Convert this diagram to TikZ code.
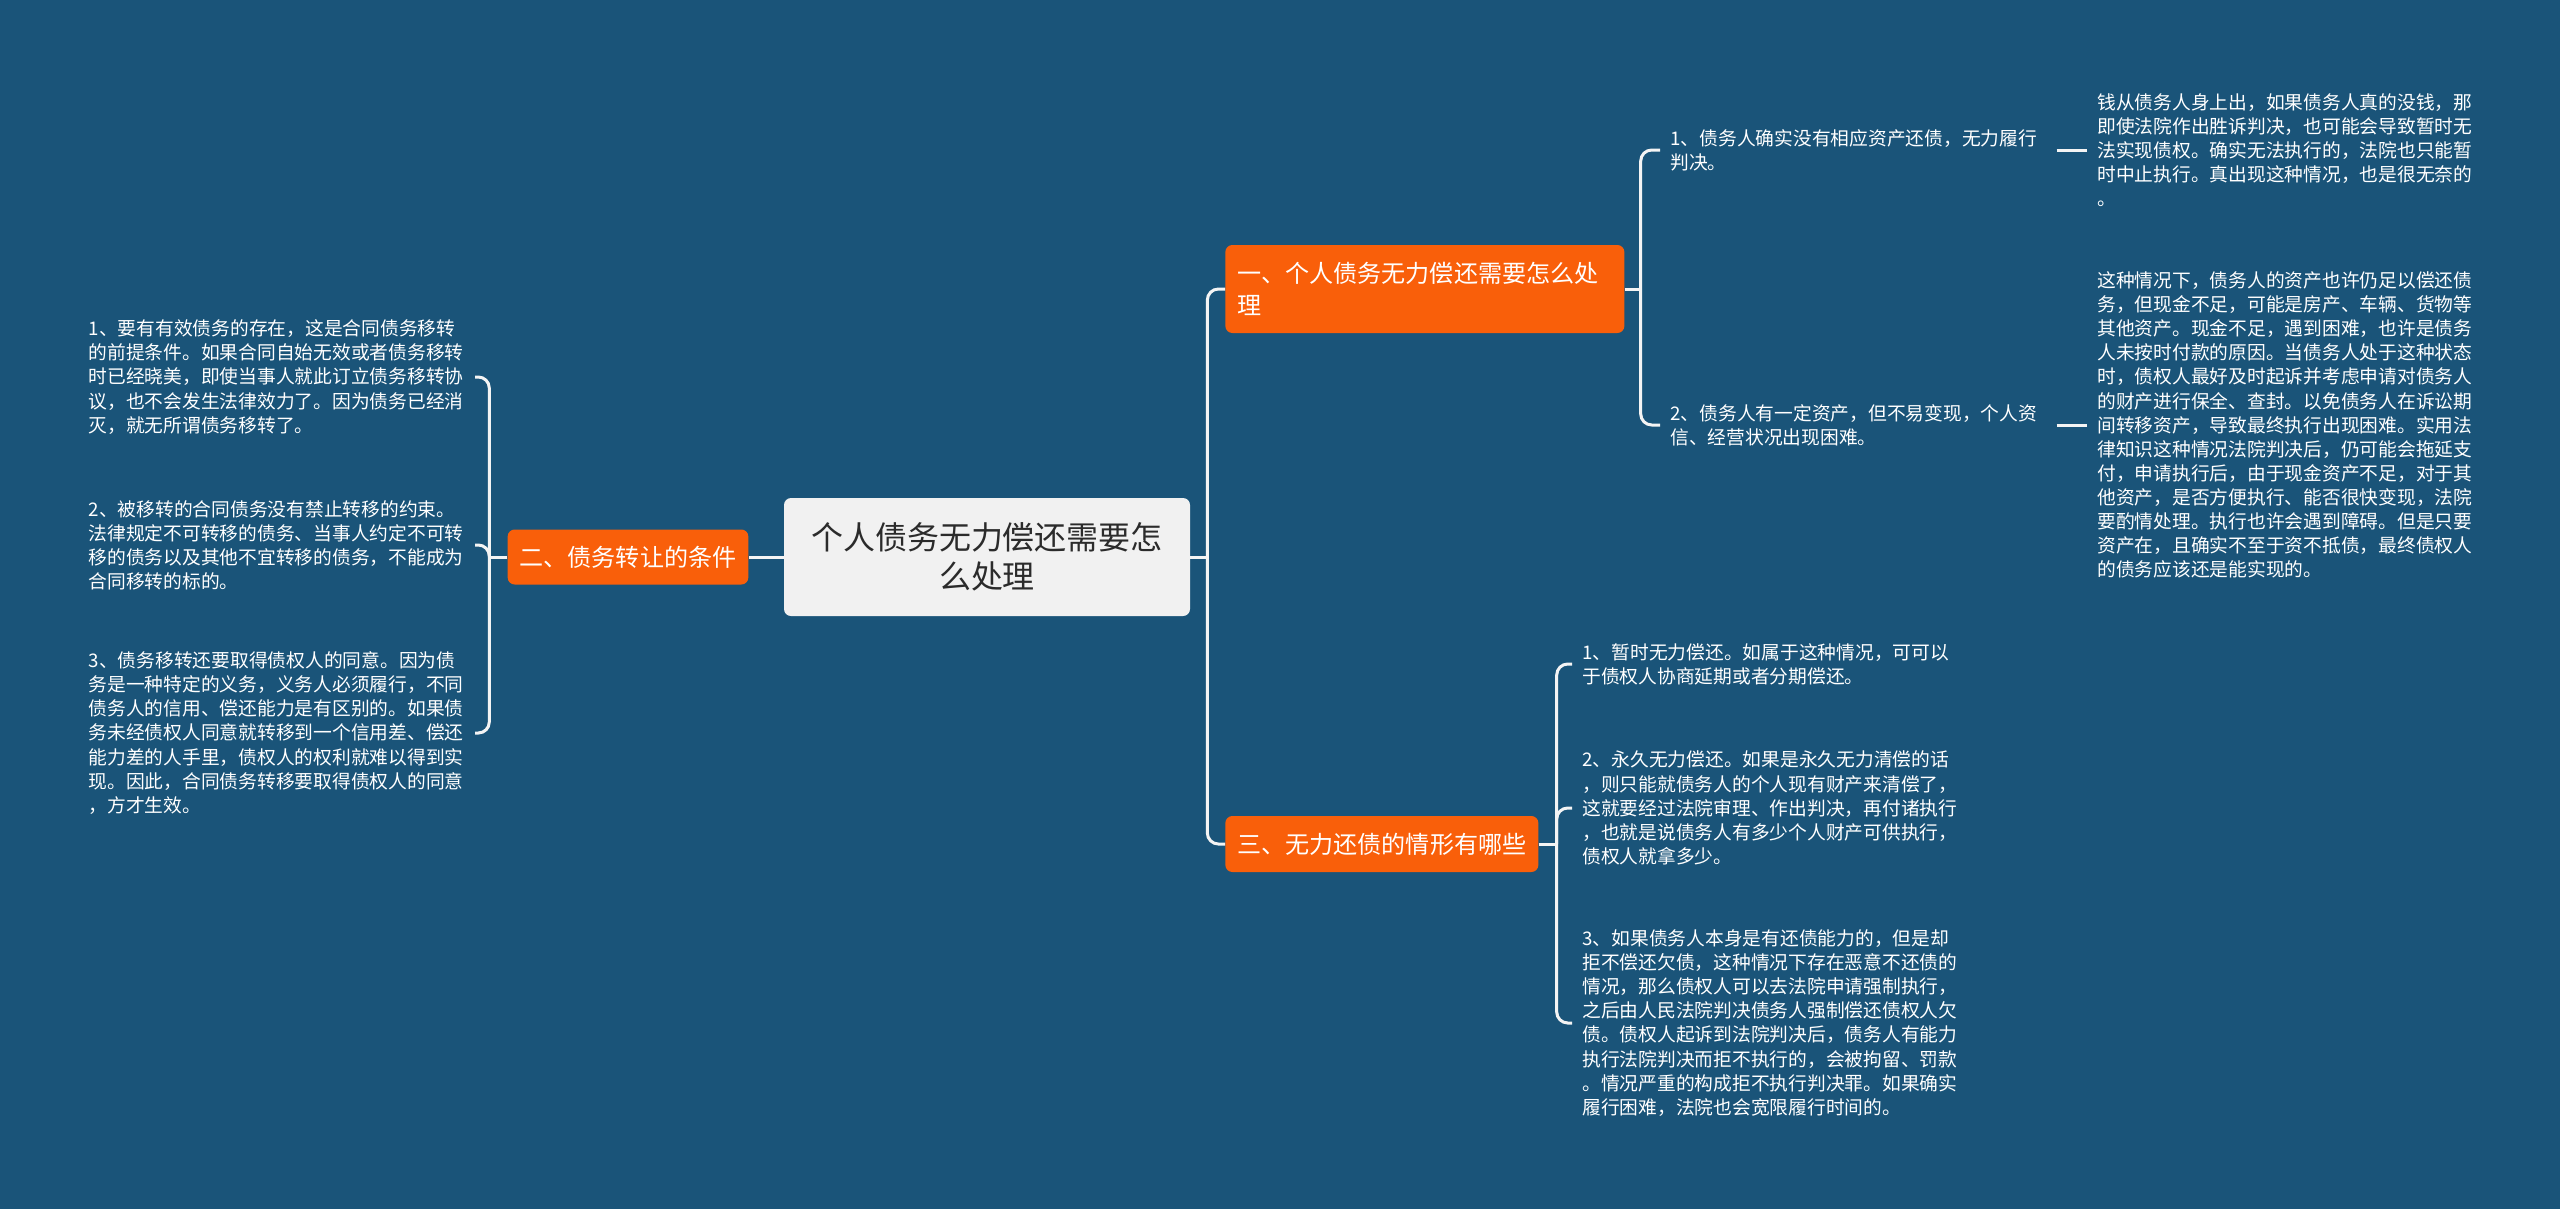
\documentclass[tikz,border=0pt]{standalone}
\usepackage{fontspec}
\setmainfont{Noto Sans CJK SC}
\usepackage{tikz}
\usetikzlibrary{positioning}
\definecolor{MPBack}{HTML}{1A5479}
\definecolor{MPOrange}{HTML}{F95F0A}
\definecolor{MPRoot}{HTML}{F1F1F1}
\definecolor{MPInk}{HTML}{2B2B2B}
\definecolor{MPLine}{HTML}{F4F4F4}

\tikzset{
  mproot/.style={fill=MPRoot,text=MPInk,rounded corners=1.4mm,align=center,
    minimum width=81.2mm,minimum height=23.6mm,inner sep=0pt,
    font=\fontsize{18.2pt}{22.3pt}\selectfont},
  mpsec/.style={fill=MPOrange,text=white,rounded corners=1.4mm,
    inner xsep=2.4mm,inner ysep=0pt,
    font=\fontsize{13.7pt}{18.3pt}\selectfont},
  mpleaf/.style={text=white,align=left,text width=75.2mm,
    inner xsep=2mm,inner ysep=0.6mm,
    font=\fontsize{10.67pt}{13.7pt}\selectfont},
  mplink/.style={draw=MPLine,line width=0.6mm,rounded corners=2.2mm},
}

\begin{document}
\begin{tikzpicture}[x=0.2mm,y=-0.2mm]
  \fill[MPBack] (0,0) rectangle (2560,1209);
  \path[use as bounding box] (0,0) rectangle (2560,1209);

  % Centre topic and the three main branches.
  \node[mproot] (root) at (987,557) {个人债务无力偿还需要怎\\么处理};
  \node[mpsec,text width=75mm,align=left,minimum height=17.6mm,anchor=west]
    (sec1) at (1225,289) {一、个人债务无力偿还需要怎么处\\理};
  \node[mpsec,minimum width=48mm,minimum height=11mm]
    (sec2) at (628,557) {二、债务转让的条件};
  \node[mpsec,minimum width=62.6mm,minimum height=11.2mm,anchor=west]
    (sec3) at (1225,844) {三、无力还债的情形有哪些};

  % Left branch: conditions of the transfer.
  \node[mpleaf,anchor=east] (l1) at (475,377)
    {1、要有有效债务的存在，这是合同债务移转\\
     的前提条件。如果合同自始无效或者债务移转\\
     时已经晓美，即使当事人就此订立债务移转协\\
     议，也不会发生法律效力了。因为债务已经消\\
     灭，就无所谓债务移转了。};
  \node[mpleaf,anchor=east] (l2) at (475,545)
    {2、被移转的合同债务没有禁止转移的约束。\\
     法律规定不可转移的债务、当事人约定不可转\\
     移的债务以及其他不宜转移的债务，不能成为\\
     合同移转的标的。};
  \node[mpleaf,anchor=east] (l3) at (475,733)
    {3、债务移转还要取得债权人的同意。因为债\\
     务是一种特定的义务，义务人必须履行，不同\\
     债务人的信用、偿还能力是有区别的。如果债\\
     务未经债权人同意就转移到一个信用差、偿还\\
     能力差的人手里，债权人的权利就难以得到实\\
     现。因此，合同债务转移要取得债权人的同意\\
     ，方才生效。};

  % Upper right branch and its explanations.
  \node[mpleaf,anchor=west] (r11) at (1660,150)
    {1、债务人确实没有相应资产还债，无力履行\\
     判决。};
  \node[mpleaf,anchor=west] (r12) at (1660,425)
    {2、债务人有一定资产，但不易变现，个人资\\
     信、经营状况出现困难。};
  \node[mpleaf,anchor=west] (r21) at (2087,150)
    {钱从债务人身上出，如果债务人真的没钱，那\\
     即使法院作出胜诉判决，也可能会导致暂时无\\
     法实现债权。确实无法执行的，法院也只能暂\\
     时中止执行。真出现这种情况，也是很无奈的\\
     。};
  \node[mpleaf,anchor=west] (r22) at (2087,425)
    {这种情况下，债务人的资产也许仍足以偿还债\\
     务，但现金不足，可能是房产、车辆、货物等\\
     其他资产。现金不足，遇到困难，也许是债务\\
     人未按时付款的原因。当债务人处于这种状态\\
     时，债权人最好及时起诉并考虑申请对债务人\\
     的财产进行保全、查封。以免债务人在诉讼期\\
     间转移资产，导致最终执行出现困难。实用法\\
     律知识这种情况法院判决后，仍可能会拖延支\\
     付，申请执行后，由于现金资产不足，对于其\\
     他资产，是否方便执行、能否很快变现，法院\\
     要酌情处理。执行也许会遇到障碍。但是只要\\
     资产在，且确实不至于资不抵债，最终债权人\\
     的债务应该还是能实现的。};

  % Lower right branch.
  \node[mpleaf,anchor=west] (r31) at (1572,664)
    {1、暂时无力偿还。如属于这种情况，可可以\\
     于债权人协商延期或者分期偿还。};
  \node[mpleaf,anchor=west] (r32) at (1572,808)
    {2、永久无力偿还。如果是永久无力清偿的话\\
     ，则只能就债务人的个人现有财产来清偿了，\\
     这就要经过法院审理、作出判决，再付诸执行\\
     ，也就是说债务人有多少个人财产可供执行，\\
     债权人就拿多少。};
  \node[mpleaf,anchor=west] (r33) at (1572,1023)
    {3、如果债务人本身是有还债能力的，但是却\\
     拒不偿还欠债，这种情况下存在恶意不还债的\\
     情况，那么债权人可以去法院申请强制执行，\\
     之后由人民法院判决债务人强制偿还债权人欠\\
     债。债权人起诉到法院判决后，债务人有能力\\
     执行法院判决而拒不执行的，会被拘留、罚款\\
     。情况严重的构成拒不执行判决罪。如果确实\\
     履行困难，法院也会宽限履行时间的。};

  % Brace-like connectors: a short stub, then one elbow per child.
  \coordinate[right=3.4mm of root] (b0);
  \coordinate[left=3.6mm of sec2] (b2);
  \coordinate[right=3.2mm of sec1] (b1);
  \coordinate[right=3.6mm of sec3] (b3);

  \draw[mplink] (root.west) -- (sec2.east);
  \draw[mplink] (root.east) -- (b0);
  \draw[mplink] (sec2.west) -- (b2);
  \draw[mplink] (sec1.east) -- (b1);
  \draw[mplink] (sec3.east) -- (b3);
  \foreach \kid in {sec1,sec3} \draw[mplink] (b0) |- (\kid.west);
  \foreach \kid in {l1,l2,l3} \draw[mplink] (b2) |- (\kid.east);
  \foreach \kid in {r11,r12} \draw[mplink] (b1) |- (\kid.west);
  \foreach \kid in {r31,r32,r33} \draw[mplink] (b3) |- (\kid.west);
  \draw[mplink] (r11.east) -- (r21.west);
  \draw[mplink] (r12.east) -- (r22.west);
\end{tikzpicture}
\end{document}
